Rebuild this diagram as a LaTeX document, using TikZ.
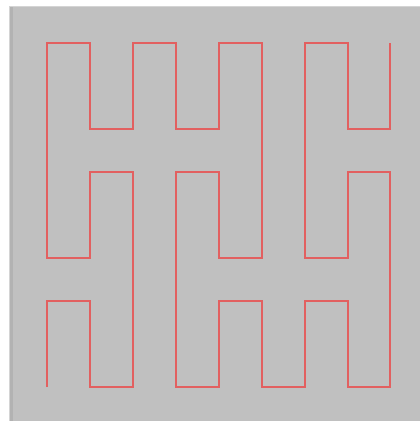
\documentclass[tikz,border=0pt]{standalone}
\definecolor{bg}{RGB}{192,192,192}
\definecolor{bgdark}{RGB}{178,178,178}
\definecolor{frame}{RGB}{212,212,212}
\definecolor{curve}{RGB}{226,96,96}
\tikzset{curveline/.style={draw=curve,line width=1.3pt,line join=miter}}
\begin{document}
\begin{tikzpicture}[x=1pt,y=-1pt]
\useasboundingbox (0,0) rectangle (420,421);
\fill[white] (0,0) rectangle (420,421);
\fill[frame] (9,6) rectangle (420,421);
\fill[bg] (10,7) rectangle (420,421);
\fill[bgdark] (10,7) rectangle (13,421);
\draw[curveline]
 (47,387) -- (47,301) -- (90,301) -- (90,387) -- (133,387) -- (133,172)
 -- (90,172) -- (90,258) -- (47,258) -- (47,43) -- (90,43) -- (90,129)
 -- (133,129) -- (133,43) -- (176,43) -- (176,129) -- (219,129) -- (219,43)
 -- (262,43) -- (262,258) -- (219,258) -- (219,172) -- (176,172) -- (176,387)
 -- (219,387) -- (219,301) -- (262,301) -- (262,387) -- (305,387) -- (305,301)
 -- (348,301) -- (348,387) -- (390,387) -- (390,172) -- (348,172) -- (348,258)
 -- (305,258) -- (305,43) -- (348,43) -- (348,129) -- (390,129) -- (390,43);
\end{tikzpicture}
\end{document}
